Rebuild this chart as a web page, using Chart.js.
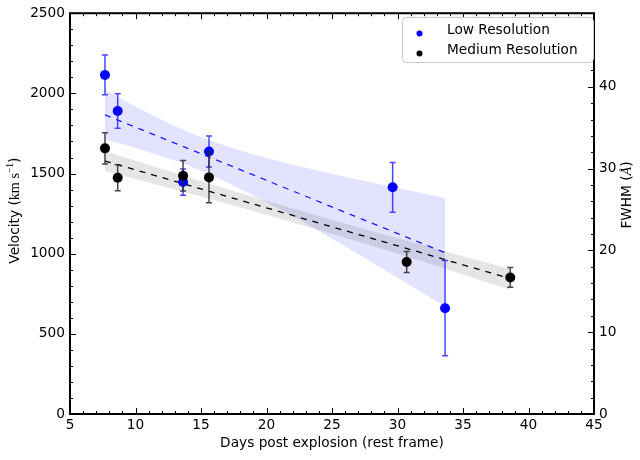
<!DOCTYPE html>
<html><head><meta charset="utf-8">
<script src="https://cdn.jsdelivr.net/npm/chart.js@4.4.1/dist/chart.umd.min.js"></script>
<style>html,body{margin:0;padding:0;background:#fff;}</style>
</head><body>
<canvas id="c" width="640" height="460"></canvas>
<script>
// ---- data ----
const seriesNames = ['Low Resolution', 'Medium Resolution'];
const lowDays = [7.67, 8.64, 13.63, 15.61, 29.63, 33.63];
const lowVel  = [2115, 1890, 1447, 1637, 1414, 660];
const lowErr  = [124, 107, 82, 97, 155, 297];
const medDays = [7.67, 8.64, 13.63, 15.61, 30.70, 38.61];
const medVel  = [1657, 1474, 1486, 1476, 948, 852];
const medErr  = [97, 81, 95, 159, 66, 62];
const lowFitDays = [7.67, 33.63];
const lowFitVel  = [1866, 1006];
const medFitDays = [7.67, 38.61];
const medFitVel  = [1578, 845];
const lowBandDays  = [7.67, 10, 14, 18, 22, 26, 30, 33.63];
const lowBandUpper = [2022, 1918, 1761, 1644, 1556, 1480, 1409, 1347];
const lowBandLower = [1710, 1660, 1551, 1404, 1235, 1045, 850, 670];
const medBandDays  = [7.67, 15, 23, 31, 38.61];
const medBandUpper = [1640, 1452, 1259, 1075, 905];
const medBandLower = [1516, 1356, 1171, 975, 775];
const xTicks  = [5, 10, 15, 20, 25, 30, 35, 40, 45];
const yTicks  = [0, 500, 1000, 1500, 2000, 2500];
const y1Ticks = [0, 10, 20, 30, 40];
const xRange = [5, 45], yRange = [0, 2500], y1Range = [0, 49.0];

const FONT = {family: 'DejaVu Sans', size: 13.7};
const SANS = `${FONT.size}px "DejaVu Sans"`;
const SERIF = `${FONT.size + 0.5}px "Liberation Serif"`;
const SUP = `${FONT.size * 0.7}px "Liberation Serif"`;
const pts = (xs, ys) => xs.map((x, i) => ({x, y: ys[i]}));

const errorData = {6: {days: lowDays, vel: lowVel, err: lowErr, color: 'rgba(40,40,255,0.85)'},
                   7: {days: medDays, vel: medVel, err: medErr, color: 'rgba(40,40,40,0.85)'}};

const errPlugin = {
  id: 'errbars',
  beforeDatasetDraw(chart, args) {
    const e = errorData[args.index];
    if (!e) return;
    const {ctx, scales: {x, y}} = chart;
    ctx.save();
    ctx.strokeStyle = e.color; ctx.lineWidth = 1.5;
    e.days.forEach((d, i) => {
      const px = x.getPixelForValue(d);
      const t = y.getPixelForValue(e.vel[i] + e.err[i]);
      const b = y.getPixelForValue(e.vel[i] - e.err[i]);
      ctx.beginPath();
      ctx.moveTo(px, t); ctx.lineTo(px, b);
      ctx.moveTo(px - 3, t); ctx.lineTo(px + 3, t);
      ctx.moveTo(px - 3, b); ctx.lineTo(px + 3, b);
      ctx.stroke();
    });
    ctx.restore();
  }
};

// draw a rotated (bottom-to-top) label made of runs [text, font, dy]
function drawRotatedRuns(ctx, runs, cx, cy) {
  let total = 0;
  runs.forEach(r => { ctx.font = r[1]; total += ctx.measureText(r[0]).width; });
  ctx.save();
  ctx.translate(cx, cy);
  ctx.rotate(-Math.PI / 2);
  ctx.textBaseline = 'alphabetic'; ctx.textAlign = 'left'; ctx.fillStyle = '#000';
  let xx = -total / 2;
  runs.forEach(r => {
    ctx.font = r[1];
    ctx.fillText(r[0], xx, 5 + (r[2] || 0));
    xx += ctx.measureText(r[0]).width;
  });
  ctx.restore();
}

const framePlugin = {
  id: 'frame',
  afterDatasetsDraw(chart) {
    const {ctx, chartArea: a, scales: {x, y, y1}} = chart;
    ctx.save();
    ctx.strokeStyle = '#000'; ctx.lineWidth = 1;
    ctx.beginPath();
    for (let v = xRange[0]; v <= xRange[1]; v += 1) {
      const p = Math.round(x.getPixelForValue(v)) + 0.5;
      const L = (v % 5 === 0) ? 6 : 3;
      ctx.moveTo(p, a.bottom); ctx.lineTo(p, a.bottom - L);
      ctx.moveTo(p, a.top); ctx.lineTo(p, a.top + L);
    }
    for (let v = yRange[0]; v <= yRange[1]; v += 100) {
      const p = Math.round(y.getPixelForValue(v)) + 0.5;
      const L = (v % 500 === 0) ? 6 : 3;
      ctx.moveTo(a.left, p); ctx.lineTo(a.left + L, p);
    }
    for (let v = y1Range[0]; v <= y1Range[1]; v += 2) {
      const p = Math.round(y1.getPixelForValue(v)) + 0.5;
      const L = (v % 10 === 0) ? 6 : 3;
      ctx.moveTo(a.right, p); ctx.lineTo(a.right - L, p);
    }
    ctx.stroke();
    ctx.lineWidth = 2;
    ctx.strokeRect(a.left, a.top, a.right - a.left, a.bottom - a.top);
    // legend
    const bx = 402, by = 17, bw = 191, bh = 45, r = 4;
    ctx.lineWidth = 1; ctx.strokeStyle = '#c8c8c8'; ctx.fillStyle = '#fff';
    ctx.beginPath();
    ctx.roundRect(bx + 0.5, by + 0.5, bw, bh, r);
    ctx.fill(); ctx.stroke();
    const cols = ['#0000ff', '#000000'];
    ctx.font = SANS;
    ctx.textBaseline = 'middle'; ctx.textAlign = 'left';
    seriesNames.forEach((n, i) => {
      const ty = 30 + i * 20;
      ctx.fillStyle = cols[i];
      ctx.beginPath(); ctx.arc(419.5, ty + 3.5, 3, 0, Math.PI * 2); ctx.fill();
      ctx.fillStyle = '#000';
      ctx.fillText(n, 447, ty);
    });
    // axis titles (vertical)
    drawRotatedRuns(ctx, [['Velocity (', SANS], ['km s', SERIF], ['\u22121', SUP, -6], [')', SANS]], 14, (a.top + a.bottom) / 2 - 3);
    drawRotatedRuns(ctx, [['FWHM (', SANS], ['\u00C5', `italic ${SERIF}`], [')', SANS]], 626, 195);
    ctx.restore();
  }
};

const tickFmt = v => String(v);
const setTicks = arr => s => { s.ticks = arr.map(v => ({value: v})); };

new Chart(document.getElementById('c'), {
  type: 'line',
  data: {
    datasets: [
      {data: pts(lowBandDays, lowBandUpper), borderWidth: 0, pointRadius: 0, fill: false, cubicInterpolationMode: 'monotone', order: 10, yAxisID: 'y'},
      {data: pts(lowBandDays, lowBandLower), borderWidth: 0, pointRadius: 0, fill: {target: 0}, backgroundColor: 'rgba(0,0,255,0.11)', cubicInterpolationMode: 'monotone', order: 9, yAxisID: 'y'},
      {data: pts(medBandDays, medBandUpper), borderWidth: 0, pointRadius: 0, fill: false, cubicInterpolationMode: 'monotone', order: 8, yAxisID: 'y'},
      {data: pts(medBandDays, medBandLower), borderWidth: 0, pointRadius: 0, fill: {target: 2}, backgroundColor: 'rgba(0,0,0,0.1)', cubicInterpolationMode: 'monotone', order: 7, yAxisID: 'y'},
      {data: pts(lowFitDays, lowFitVel), borderColor: '#1a1aff', borderWidth: 1.3, borderDash: [6, 6], pointRadius: 0, fill: false, order: 5, yAxisID: 'y'},
      {data: pts(medFitDays, medFitVel), borderColor: '#000', borderWidth: 1.3, borderDash: [6, 6], pointRadius: 0, fill: false, order: 4, yAxisID: 'y'},
      {label: seriesNames[0], data: pts(lowDays, lowVel), showLine: false, pointRadius: 5, pointBackgroundColor: '#0000ff', pointBorderWidth: 0, order: 1, yAxisID: 'y'},
      {label: seriesNames[1], data: pts(medDays, medVel), showLine: false, pointRadius: 5, pointBackgroundColor: '#000000', pointBorderWidth: 0, order: 0, yAxisID: 'y'}
    ]
  },
  options: {
    responsive: false, animation: false, devicePixelRatio: 1,
    layout: {padding: {top: 10, left: 0, right: 0, bottom: 0}},
    plugins: {legend: {display: false}, tooltip: {enabled: false}},
    scales: {
      x: {type: 'linear', position: 'bottom', min: xRange[0], max: xRange[1],
          afterBuildTicks: setTicks(xTicks), afterFit: s => { s.height = 46; },
          ticks: {font: FONT, color: '#000', padding: 3, maxRotation: 0, autoSkip: false, callback: tickFmt},
          grid: {display: false, drawTicks: false}, border: {display: false},
          title: {display: true, text: 'Days post explosion (rest frame)', font: FONT, color: '#000', padding: {top: 0, bottom: 8.5}}},
      y: {type: 'linear', position: 'left', min: yRange[0], max: yRange[1],
          afterBuildTicks: setTicks(yTicks), afterFit: s => { s.width = 70; },
          ticks: {font: FONT, color: '#000', padding: 5, autoSkip: false, callback: tickFmt},
          grid: {display: false, drawTicks: false}, border: {display: false},
          title: {display: false, text: 'Velocity (km s\u207B\u00B9)'}},
      y1: {type: 'linear', position: 'right', min: y1Range[0], max: y1Range[1],
          afterBuildTicks: setTicks(y1Ticks), afterFit: s => { s.width = 46; },
          ticks: {font: FONT, color: '#000', padding: 5, autoSkip: false, callback: tickFmt},
          grid: {display: false, drawTicks: false}, border: {display: false},
          title: {display: false, text: 'FWHM (\u00C5)'}}
    }
  },
  plugins: [errPlugin, framePlugin]
});
</script>
</body></html>
